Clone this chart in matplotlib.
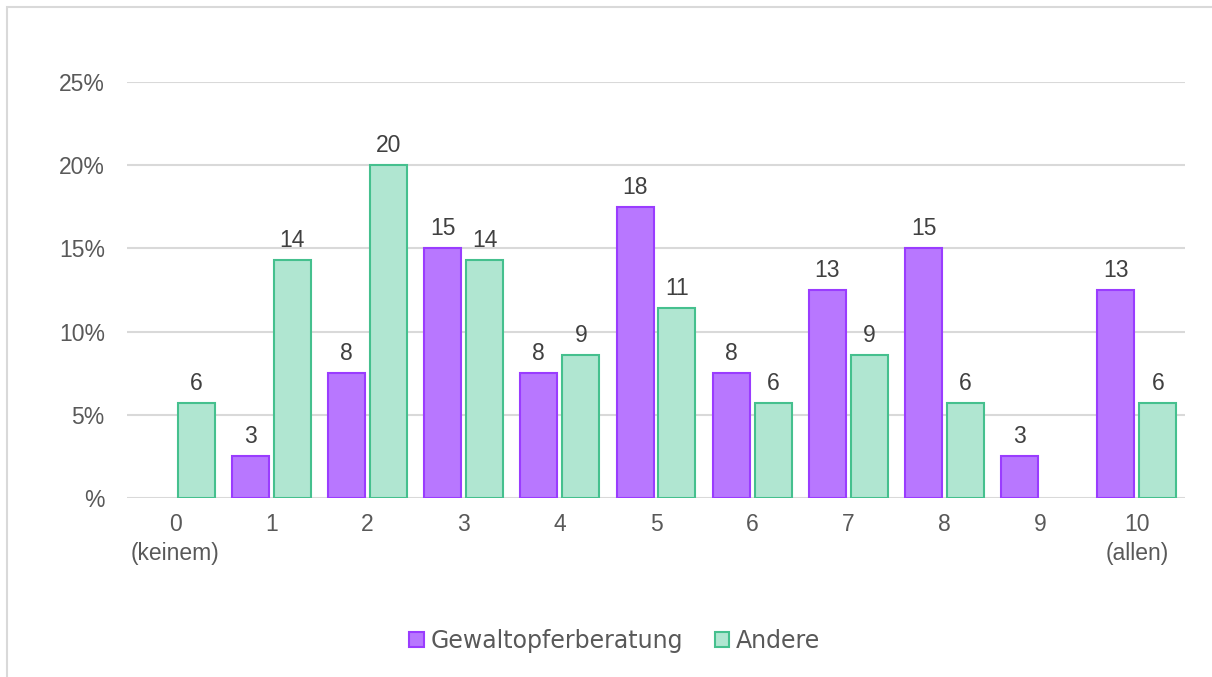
import matplotlib.pyplot as plt
import numpy as np
from matplotlib.patches import Rectangle

categories = ['0\n(keinem)', '1', '2', '3', '4', '5', '6', '7', '8', '9', '10\n(allen)']
gewalt = [0, 2.5, 7.5, 15.0, 7.5, 17.5, 7.5, 12.5, 15.0, 2.5, 12.5]
andere = [5.7, 14.3, 20.0, 14.3, 8.6, 11.4, 5.7, 8.6, 5.7, 0, 5.7]
yticks = [0, 5, 10, 15, 20, 25]
ytick_labels = ['%', '5%', '10%', '15%', '20%', '25%']

purple_fill = '#B877FF'
purple_edge = '#9A3CFF'
green_fill = '#B0E6D1'
green_edge = '#45C08E'
text_col = '#595959'

fig = plt.figure(figsize=(12.12, 6.77), dpi=100)
ax = fig.add_axes([127/1212, 1-498/677, (1185-127)/1212, (498-82)/677])

# outer chart frame (only left and top edges show in the picture)
fig.patches.append(Rectangle((7/1212, -0.05), 1.0, 1-7/677+0.05,
                             transform=fig.transFigure, fill=False,
                             edgecolor='#D9D9D9', linewidth=1.5))

x = np.arange(len(categories))
w = 0.385
off = 0.218

for vals, dx, fc, ec, name in [(gewalt, -off, purple_fill, purple_edge, 'Gewaltopferberatung'),
                               (andere, off, green_fill, green_edge, 'Andere')]:
    vals = np.array(vals, dtype=float)
    m = vals > 0
    ax.bar(x[m] + dx, vals[m], width=w, color=fc, edgecolor=ec, linewidth=1.5,
           label=name, zorder=3)
    for xi, v in zip(x[m] + dx, vals[m]):
        ax.annotate(str(int(v + 0.5)), (xi, v), xytext=(0, 9.4),
                    textcoords='offset points', ha='center', va='baseline',
                    fontsize=16.5, color='#404040', family='Liberation Sans')

ax.set_xlim(-0.5, 10.5)
ax.set_ylim(0, 25)
ax.set_yticks(yticks)
ax.set_yticklabels(ytick_labels)
ax.set_xticks(x)
ax.set_xticklabels(categories, linespacing=1.32)
ax.grid(axis='y', color='#D9D9D9', linewidth=1.5, zorder=0)
ax.set_axisbelow(True)
for s in ax.spines.values():
    s.set_visible(False)
ax.tick_params(axis='both', length=0, labelsize=16.5, labelcolor=text_col)
ax.tick_params(axis='y', pad=16)
ax.tick_params(axis='x', pad=11)
for lab in ax.get_xticklabels() + ax.get_yticklabels():
    lab.set_family('Liberation Sans')

leg = fig.legend(loc='center', bbox_to_anchor=(615/1212, 1-641/677), ncol=2,
                 frameon=False, fontsize=17, handlelength=0.6, handleheight=0.6,
                 handletextpad=0.3, columnspacing=1.35)
for t in leg.get_texts():
    t.set_color(text_col)

fig.savefig('out.png', dpi=100)
